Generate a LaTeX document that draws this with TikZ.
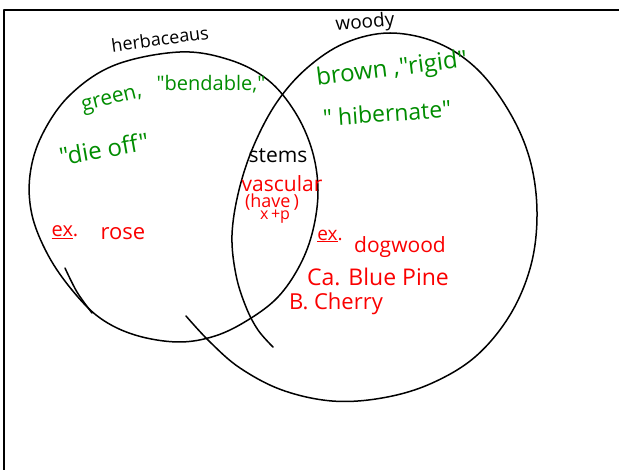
\documentclass[tikz,border=0pt]{standalone}
\usepackage{fontspec}
\setmainfont{Open Sans}[Ligatures=TeXOff]
\definecolor{hgreen}{RGB}{0,140,0}
\definecolor{hred}{RGB}{250,0,0}
\begin{document}
\begin{tikzpicture}[x=1pt,y=-1pt,
  curve/.style={line width=1.5pt, line cap=round, line join=round},
  lbl/.style={inner sep=0pt, font=\fontsize{20}{22}\selectfont},
  blk/.style={lbl, text=black},
  grn/.style={lbl, text=hgreen},
  rd/.style={lbl, text=hred}]
\useasboundingbox (0,0) rectangle (619,470);
% frame
\draw[curve] (4,470) -- (4,10) -- (619,10);
% herbaceous circle
\draw[curve] plot[smooth cycle, tension=0.6] coordinates {(180,52) (230,60) (268,80) (295,112) (312,150) (318,190) (313,230) (300,265) (278,297) (248,320) (215,336) (178,342) (135,335) (100,318) (72,290) (48,255) (32,215) (30,175) (42,135) (70,95) (115,65)};
\draw[curve] plot[smooth, tension=0.6] coordinates {(65,268) (77,292) (92,313)};
% woody circle
\draw[curve] plot[smooth, tension=0.6] coordinates {(186,316) (210,342) (240,368) (282,390) (332,401) (382,398) (430,384) (475,357) (510,315) (531,265) (537,212) (530,160) (510,113) (478,70) (438,43) (390,33) (345,43) (307,68) (277,102) (254,145) (239,190) (232,235) (236,275) (246,307) (258,330) (273,347)};
% titles
\node[blk, font=\fontsize{18}{18}\selectfont, rotate=8] (herb) at (160,39) {herbaceaus};
\node[blk, font=\fontsize{19}{18}\selectfont, rotate=5] (woody) at (365,23) {woody};
% green texts
\node[grn, font=\fontsize{21}{22}\selectfont, rotate=14] (green) at (112,101) {green,};
\node[grn] (bend) at (211,84) {"bendable,"};
\node[grn, font=\fontsize{24}{24}\selectfont, rotate=10] (die) at (104,149) {"die off"};
\node[grn, font=\fontsize{24}{24}\selectfont, rotate=7] (brown) at (392,70) {brown ,"rigid"};
\node[grn, font=\fontsize{23}{24}\selectfont, rotate=4] (hib) at (387,113) {"\ hibernate"};
% centre
\node[blk, font=\fontsize{21}{22}\selectfont] (stems) at (278,156) {stems};
\node[rd, font=\fontsize{21}{22}\selectfont] (vasc) at (282,184) {vascular};
\node[rd, font=\fontsize{18}{18}\selectfont] (have) at (272,202) {(have\,)};
\node[rd, font=\fontsize{16}{16}\selectfont] (xp) at (275,217) {x\,+p};
% examples
\node[rd] (ex1) at (65,232) {\underline{ex}.};
\node[rd, font=\fontsize{22}{22}\selectfont] (rose) at (123,234) {rose};
\node[rd, font=\fontsize{19}{18}\selectfont] (ex2) at (330,236) {\underline{ex}.};
\node[rd, font=\fontsize{21}{22}\selectfont] (dog) at (400,247) {dogwood};
\node[rd, font=\fontsize{23}{24}\selectfont] (pine) at (378,277) {Ca. Blue Pine};
\node[rd, font=\fontsize{22}{22}\selectfont] (cherry) at (336,304) {B. Cherry};
\end{tikzpicture}
\end{document}
